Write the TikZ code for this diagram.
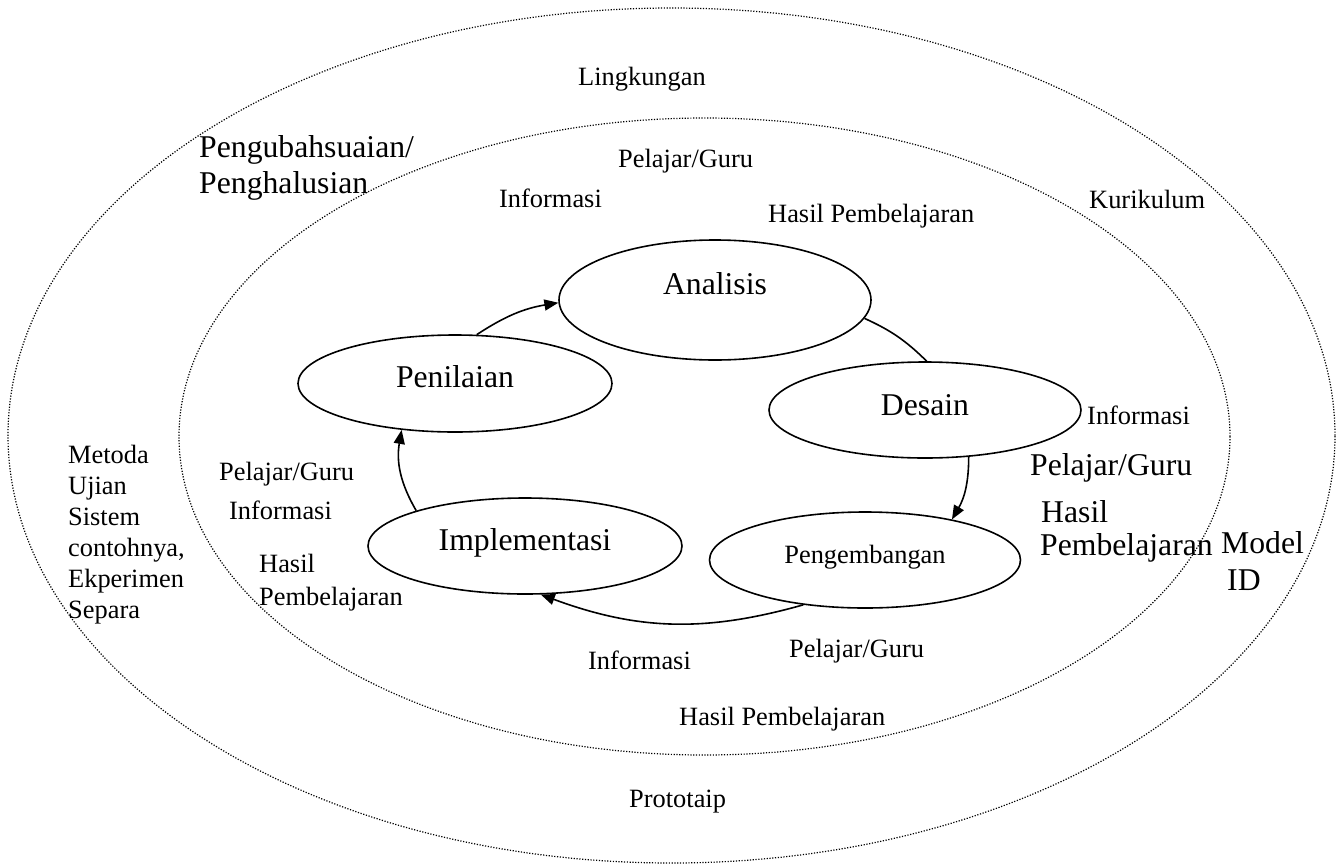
\documentclass[tikz,border=0pt]{standalone}
\usepackage{fontspec}
\setmainfont{Liberation Serif}
\usetikzlibrary{shapes.geometric,arrows.meta}
\newcommand\txs{\fontsize{26.4pt}{31pt}\selectfont}
\newcommand\txb{\fontsize{31.7pt}{36pt}\selectfont}
\begin{document}
\begin{tikzpicture}[x=1pt,y=-1pt,
  zone/.style={draw, ellipse, dash pattern=on 1.2pt off 1.6pt, line width=1.2pt, inner sep=0},
  phase/.style={draw, ellipse, line width=1.6pt, inner sep=0, minimum width=312pt, minimum height=96pt, font=\txb},
  lbl/.style={anchor=base west, inner sep=0, font=\txs},
  lblb/.style={anchor=base west, inner sep=0, font=\txb},
  flow/.style={line width=1.6pt, -{Triangle[length=14pt,width=11pt]}},
  link/.style={line width=1.6pt}]
\useasboundingbox (0,0) rectangle (1344,865);
\node[zone, minimum width=1327pt, minimum height=855pt] (outer) at (671.5,435.5) {};
\node[zone, minimum width=1051pt, minimum height=637pt] (inner) at (704.5,436.5) {};

\node[phase, minimum height=120pt, text height=10pt, text depth=22pt] (ana) at (715,300) {Analisis};
\node[phase, minimum width=314pt, minimum height=97pt, text height=20pt, text depth=13pt] (pen) at (455,383.5) {Penilaian};
\node[phase, text height=20pt, text depth=10pt] (des) at (925,410) {Desain};
\node[phase, minimum width=311pt, font=\txs, text height=18pt, text depth=12pt] (peng) at (865,560) {Pengembangan};
\node[phase, minimum width=314pt, text height=20pt, text depth=12pt] (imp) at (525,546) {Implementasi};

\draw[flow] (pen.66) to[bend left=12] (ana.181);
\draw[link] (ana.-7) to[bend left=10] (des.88);
\draw[flow] (des.-47.5) to[bend left=15] (peng.25);
\draw[flow] (peng.216.6) to[bend left=18] (imp.-72);
\draw[flow] (imp.162.5) to[bend left=20] (pen.221);

\node[lbl] (lingk) at (578,85) {Lingkungan};
\node[lblb] (peng1) at (199,157) {Pengubahsuaian/};
\node[lblb] (peng2) at (199,193) {Penghalusian};
\node[lbl] (pgtop) at (618,167) {Pelajar/Guru};
\node[lbl] (inftop) at (499,207) {Informasi};
\node[lbl] (hptop) at (768,222) {Hasil Pembelajaran};
\node[lbl] (kurik) at (1089,208) {Kurikulum};

\node[lbl] (infr) at (1087,424) {Informasi};
\node[lblb] (pgr) at (1030,475) {Pelajar/Guru};
\node[lblb] (hpr1) at (1041,522) {Hasil};
\node[lblb] (hpr2) at (1040,555) {Pembelajaran};
\node[lblb] (model1) at (1221,553) {Model};
\node[lblb] (model2) at (1227,590) {ID};

\node[lbl] (pgl) at (219,480) {Pelajar/Guru};
\node[lbl] (infl) at (229,519) {Informasi};
\node[lbl] (hpl1) at (259,572) {Hasil};
\node[lbl] (hpl2) at (259,605) {Pembelajaran};

\node[lbl] (met1) at (68,463) {Metoda};
\node[lbl] (met2) at (68,494) {Ujian};
\node[lbl] (met3) at (68,525) {Sistem};
\node[lbl] (met4) at (68,556) {contohnya,};
\node[lbl] (met5) at (68,587) {Ekperimen};
\node[lbl] (met6) at (68,618) {Separa};

\node[lbl] (infb) at (588,669) {Informasi};
\node[lbl] (pgb) at (789,657) {Pelajar/Guru};
\node[lbl] (hpb) at (679,725) {Hasil Pembelajaran};
\node[lbl] (proto) at (629,807) {Prototaip};
\end{tikzpicture}
\end{document}
